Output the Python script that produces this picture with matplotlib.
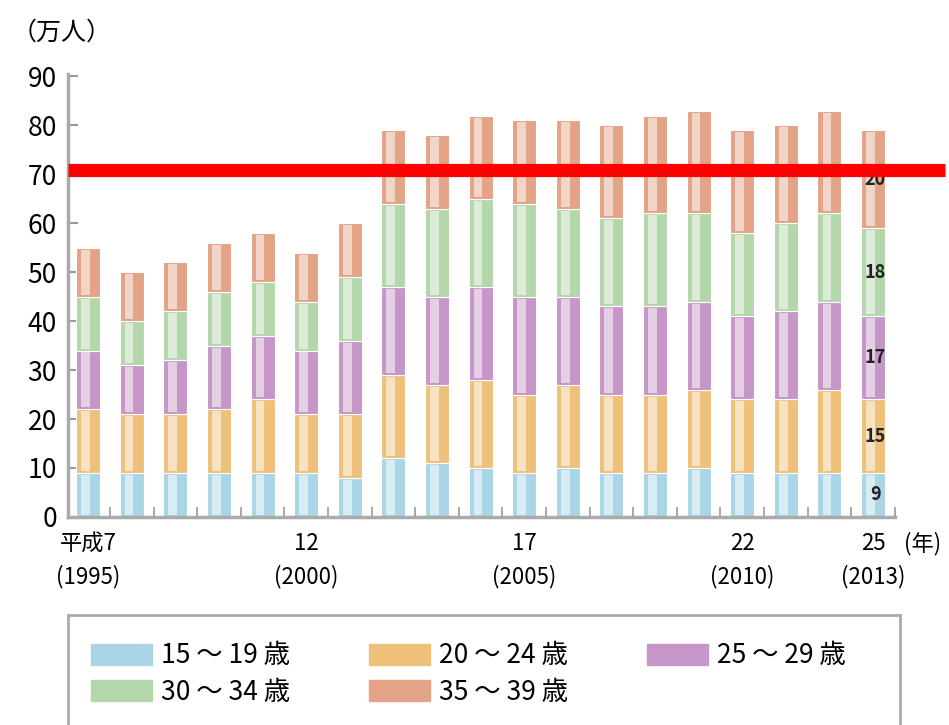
import numpy as np
import matplotlib
matplotlib.use("Agg")
from matplotlib import pyplot as plt
from matplotlib.patches import Patch, Rectangle

plt.rcParams['font.family'] = ['Noto Sans CJK JP', 'DejaVu Sans']

# data (万人), 1995-2013
years = list(range(1995, 2014))
age_15_19 = [9, 9, 9, 9, 9, 9, 8, 12, 11, 10, 9, 10, 9, 9, 10, 9, 9, 9, 9]
age_20_24 = [13, 12, 12, 13, 15, 12, 13, 17, 16, 18, 16, 17, 16, 16, 16, 15, 15, 17, 15]
age_25_29 = [12, 10, 11, 13, 13, 13, 15, 18, 18, 19, 20, 18, 18, 18, 18, 17, 18, 18, 17]
age_30_34 = [11, 9, 10, 11, 11, 10, 13, 17, 18, 18, 19, 18, 18, 19, 18, 17, 18, 18, 18]
age_35_39 = [10, 10, 10, 10, 10, 10, 11, 15, 15, 17, 17, 18, 19, 20, 21, 21, 20, 21, 20]

series = [age_15_19, age_20_24, age_25_29, age_30_34, age_35_39]
labels = ["15 ～ 19 歳", "20 ～ 24 歳", "25 ～ 29 歳", "30 ～ 34 歳", "35 ～ 39 歳"]
colors = ["#a9d5e6", "#efc07a", "#c596c7", "#b3d6aa", "#e2a386"]

tick_pos = [0, 5, 10, 15, 18]
tick_labels = ["平成7\n(1995)", "12\n(2000)", "17\n(2005)", "22\n(2010)", "25\n(2013)"]
threshold = 70.8

fig = plt.figure(figsize=(9.49, 7.25), dpi=100)
ax = fig.add_axes([0.0717, 0.287, 0.8713, 0.611])

x = np.arange(len(years))
bottom = np.zeros(len(years))
w = 0.55
for vals, c in zip(series, colors):
    vals = np.array(vals)
    ax.bar(x, vals, width=w, bottom=bottom, color=c, edgecolor="white", linewidth=0.8, zorder=2)
    # lighter stripe to imitate the gradient
    ax.bar(x - 0.06, vals - 0.8, width=0.2, bottom=bottom + 0.4, color="white", alpha=0.55,
           linewidth=0, zorder=3)
    bottom += vals

# value labels on last bar
b = 0
for vals in series:
    v = vals[-1]
    ax.text(x[-1] + 0.05, b + v / 2, str(v), ha="center", va="center", fontsize=13,
            fontweight="bold", color="#222222", zorder=4)
    b += v

ax.axhline(threshold, xmin=0, xmax=1.06, color="#ff0000", linewidth=9.5, clip_on=False,
           solid_capstyle="butt", zorder=5)

ax.set_xlim(-0.46, 18.5)
ax.set_ylim(0, 90.5)
ax.set_yticks(range(0, 91, 10))
ax.tick_params(axis="y", direction="in", length=7, width=1.5, color="#999999",
               labelsize=19, pad=8)
ax.set_xticks(tick_pos)
ax.set_xticklabels(tick_labels, fontsize=16, linespacing=1.5)
ax.set_xticks(x + 0.5, minor=True)
ax.tick_params(axis="x", which="major", length=0, pad=11)
ax.tick_params(axis="x", which="minor", direction="in", length=7, width=1.2, color="#999999")

for s in ["top", "right"]:
    ax.spines[s].set_visible(False)
for s in ["left", "bottom"]:
    ax.spines[s].set_color("#aaaaaa")
    ax.spines[s].set_linewidth(2.5)

fig.text(0.012, 0.955, "（万人）", fontsize=18, va="center", ha="left")
fig.text(0.953, 0.25, "(年)", fontsize=16, va="center", ha="left")

# legend box
fig.patches.append(Rectangle((0.0717, -0.02), 0.877, 0.172, transform=fig.transFigure,
                             facecolor="white", edgecolor="#aaaaaa", linewidth=2))
handles = [Patch(facecolor=c, edgecolor=c) for c in colors]
order = [0, 3, 1, 4, 2]
leg = fig.legend([handles[i] for i in order], [labels[i] for i in order], ncol=3,
                 loc="upper left", bbox_to_anchor=(0.096, 0.114), frameon=False,
                 fontsize=19, handlelength=2.3, handleheight=0.85, handletextpad=0.35,
                 borderpad=0, borderaxespad=0, labelspacing=0.35, columnspacing=3.0)

fig.savefig("out.png", dpi=100)
